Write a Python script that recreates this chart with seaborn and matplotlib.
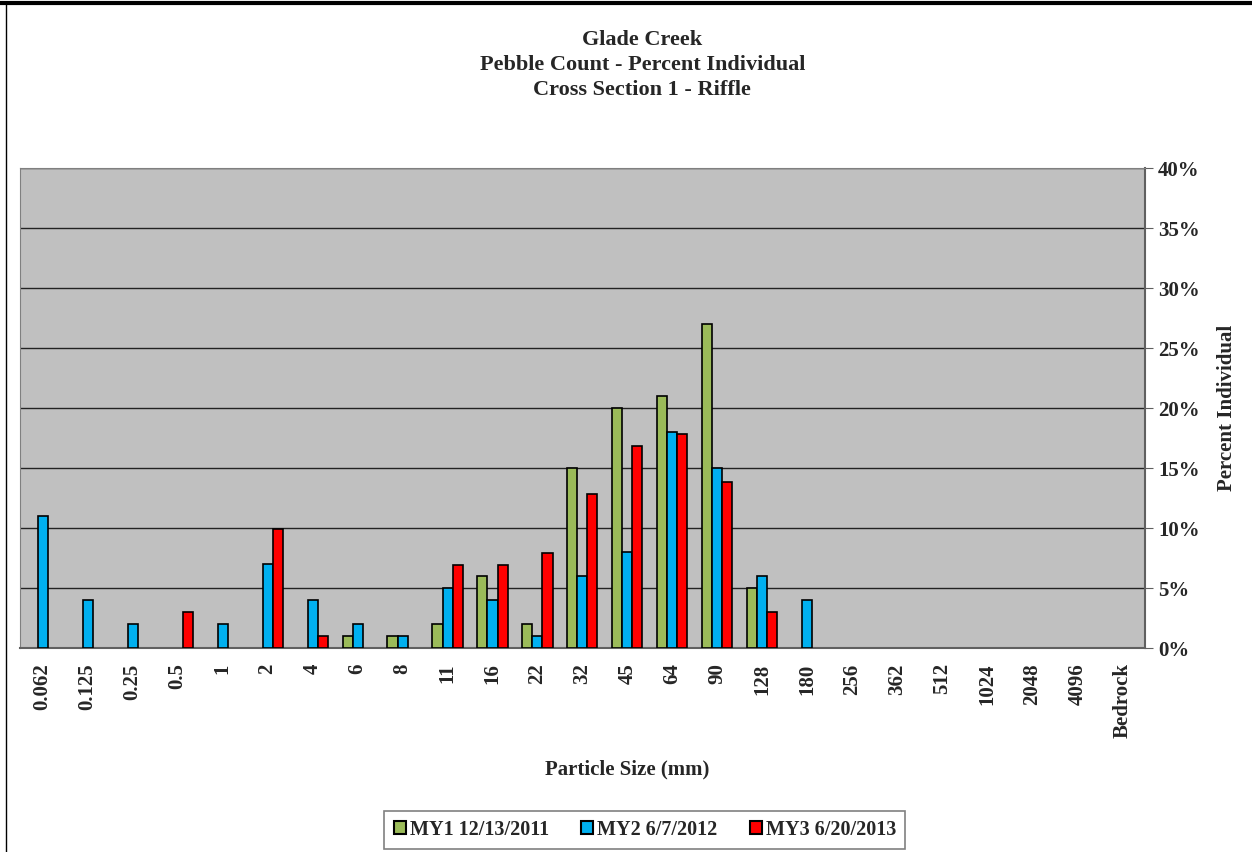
import pandas as pd
import matplotlib.pyplot as plt
import seaborn as sns
from matplotlib.lines import Line2D
from matplotlib.patches import Patch
from matplotlib.ticker import FuncFormatter, MultipleLocator

# particle size classes (mm)
sizes = ["0.062", "0.125", "0.25", "0.5", "1", "2", "4", "6", "8", "11", "16",
         "22", "32", "45", "64", "90", "128", "180", "256", "362", "512",
         "1024", "2048", "4096", "Bedrock"]

series_names = ["MY1 12/13/2011", "MY2 6/7/2012", "MY3 6/20/2013"]

# percent individual per size class
my1 = [0, 0, 0, 0, 0, 0, 0, 1, 1, 2, 6, 2, 15, 20, 21, 27, 5, 0, 0, 0, 0, 0, 0, 0, 0]
my2 = [11, 4, 2, 0, 2, 7, 4, 2, 1, 5, 4, 1, 6, 8, 18, 15, 6, 4, 0, 0, 0, 0, 0, 0, 0]
my3 = [0, 0, 0, 2.97, 0, 9.9, 0.99, 0, 0, 6.93, 6.93, 7.92, 12.87, 16.83, 17.82,
       13.86, 2.97, 0, 0, 0, 0, 0, 0, 0, 0]

colors = ["#9BBB59", "#00B0F0", "#FF0000"]

rows = []
for name, vals in zip(series_names, [my1, my2, my3]):
    for s, v in zip(sizes, vals):
        if v > 0:
            rows.append({"size": s, "series": name, "pct": v})
df = pd.DataFrame(rows)

sns.set_style("white")
plt.rcParams["font.family"] = ["Liberation Serif", "DejaVu Serif"]
plt.rcParams["font.weight"] = "bold"

fig = plt.figure(figsize=(12.52, 8.52), dpi=100)
ax = fig.add_axes([0.016, 0.2394, 0.8985, 0.5634])

sns.barplot(data=df, x="size", y="pct", hue="series", order=sizes,
            hue_order=series_names, palette=colors, saturation=1, width=0.667,
            edgecolor="black", linewidth=1.2, legend=False, ax=ax, zorder=3)

ax.set_facecolor("#C0C0C0")
ax.set_xlim(-0.5, len(sizes) - 0.5)
ax.set_ylim(0, 40)
ax.yaxis.set_major_locator(MultipleLocator(5))
ax.yaxis.set_major_formatter(FuncFormatter(lambda v, p: f"{v:.0f}%"))
ax.grid(axis="y", color="#222222", linewidth=1, zorder=0)
ax.set_axisbelow(True)

ax.yaxis.tick_right()
ax.yaxis.set_label_position("right")
for side in ["top", "left"]:
    ax.spines[side].set_color("#808080")
for side in ["right", "bottom"]:
    ax.spines[side].set_color("#606060")
    ax.spines[side].set_linewidth(1.5)

ax.tick_params(axis="both", direction="out", length=6, color="#606060",
               labelsize=15)
ax.tick_params(axis="x", labelrotation=90, pad=5)
for lab in ax.get_xticklabels() + ax.get_yticklabels():
    lab.set_fontweight("bold")

ax.set_xlabel("Particle Size (mm)", fontsize=15, fontweight="bold", labelpad=14)
ax.xaxis.set_label_coords(0.54, -0.232)
ax.set_ylabel("Percent Individual", fontsize=15, fontweight="bold", labelpad=12)

fig.text(0.513, 0.953, "Glade Creek", ha="center", va="center",
         fontsize=16, fontweight="bold")
fig.text(0.513, 0.924, "Pebble Count - Percent Individual", ha="center",
         va="center", fontsize=16, fontweight="bold")
fig.text(0.513, 0.894, "Cross Section 1 - Riffle", ha="center", va="center",
         fontsize=16, fontweight="bold")

handles = [Patch(facecolor=c, edgecolor="black", linewidth=1.5) for c in colors]
leg = fig.legend(handles, series_names, loc="center", ncol=3,
                 bbox_to_anchor=(0.515, 0.026), frameon=True, fancybox=False,
                 handlelength=0.6, handleheight=0.6, handletextpad=0.2,
                 columnspacing=1.6, borderpad=0.45, borderaxespad=0,
                 prop={"size": 14.5, "weight": "bold"})
leg.get_frame().set_edgecolor("#606060")
leg.get_frame().set_linewidth(1.2)

# outer chart frame (cropped)
fig.add_artist(Line2D([0, 1], [0.9965, 0.9965], color="black", linewidth=3))
fig.add_artist(Line2D([0.005, 0.005], [0, 0.997], color="black", linewidth=1))

fig.savefig("out.png", dpi=100)
